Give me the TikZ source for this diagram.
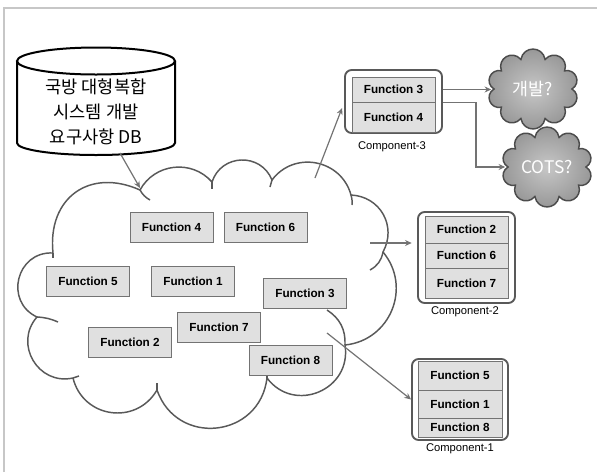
\documentclass[tikz,border=0pt]{standalone}
\usepackage{fontspec}
\setmainfont{Liberation Sans}
\newfontfamily\kr{Noto Sans CJK KR}
\usetikzlibrary{arrows.meta,calc}
\newcommand\puffcloud[1]{%
  \draw[scloudline, shift={(#1)}] (39,0) to[puff] (31.6,18.2) to[puff] (12.1,29.5)
    to[puff] (-12.1,29.5) to[puff] (-31.6,18.2) to[puff] (-39,0)
    to[puff] (-31.6,-18.2) to[puff] (-12.1,-29.5) to[puff] (12.1,-29.5)
    to[puff] (31.6,-18.2) to[puff] (39,0) -- cycle;}
\begin{document}
\begin{tikzpicture}[x=0.75pt,y=-0.75pt,
  fbox/.style={draw=black!55, fill=black!12, line width=0.6pt, minimum width=62.25pt, minimum height=22.5pt, inner sep=0pt, font=\fontsize{8.8}{10}\selectfont\bfseries},
  comp/.style={draw=black!65, line width=1.4pt, rounded corners=5pt, fill=white, inner sep=0pt},
  clab/.style={font=\fontsize{8.4}{9}\selectfont, inner sep=0pt},
  cloudline/.style={draw=black!65, line width=1.1pt},
  puff/.style={bend left=80, looseness=1.5},
  scloudline/.style={draw=black!70, line width=1.1pt, inner color=black!22, outer color=black!42},
  stext/.style={text=white, font=\kr\fontsize{13}{14}\selectfont, minimum width=62.25pt, minimum height=51pt, inner sep=0pt},
  arr/.style={draw=black!55, line width=0.9pt, -{Stealth[length=5pt,width=4.5pt]}},
  cyl/.style={draw=black, line width=1.5pt, fill=white}]
\useasboundingbox (0,0) rectangle (597,472);
% frame
\draw[black!22, line width=1.2pt] (4,472) -- (4,8) -- (597,8);
% database cylinder
\draw[cyl] (17,61) -- (17,143) arc[start angle=180, end angle=0, x radius=79, y radius=12] -- (175,61);
\draw[cyl] (96,61) ellipse [x radius=79, y radius=13.5];
\node[font=\kr\fontsize{13.2}{18.75}\selectfont, align=center, inner sep=0pt] (db) at (96,112) {국방 대형복합\\시스템 개발\\요구사항 DB};
% big cloud
\draw[cloudline, fill=white] (53,253)
  to[bend left=60, looseness=1.32] (140,190)
  to[bend left=55, looseness=1.08] (212,182)
  to[bend left=70, looseness=1.27] (272,180)
  to[bend left=64, looseness=1.18] (351,195)
  to[bend left=58, looseness=1.15] (383,252)
  to[bend left=62, looseness=1.16] (345,345)
  to[bend left=76, looseness=1.37] (267,378)
  to[bend left=77, looseness=1.40] (157,390)
  to[bend left=68, looseness=1.25] (73,378)
  to[bend left=72, looseness=1.29] (37,317)
  to[bend left=79, looseness=1.42] (53,253) -- cycle;
% inner stubs
\draw[cloudline] (140,190) to[bend right=15] (150,200);
\draw[cloudline] (212,182) -- (212,189);
\draw[cloudline] (272,180) -- (270,187);
\draw[cloudline] (351,195) to[bend left=10] (352,205);
\draw[cloudline] (383,252) to[bend left=25] (370,270);
\draw[cloudline] (327,310) to[bend left=30] (345,345);
\draw[cloudline] (267,378) -- (267,371);
\draw[cloudline] (157,390) -- (157,383);
\draw[cloudline] (73,378) -- (79,376);
\draw[cloudline] (37,317) to[bend left=10] (58,322);
\draw[cloudline] (53,253) -- (53,258);
% functions in cloud
\node[fbox] (f4) at (171.5,227) {Function 4};
\node[fbox] (f6) at (265.5,227) {Function 6};
\node[fbox] (f5) at (88,281) {Function 5};
\node[fbox] (f1) at (193,281) {Function 1};
\node[fbox] (f3) at (305,293) {Function 3};
\node[fbox] (f7) at (219,327) {Function 7};
\node[fbox] (f2) at (130,342) {Function 2};
\node[fbox] (f8) at (290.5,360) {Function 8};
% component 3
\node[comp, minimum width=72.75pt, minimum height=47.25pt] (c3) at (393.5,101.5) {};
\node[fbox, minimum height=18.75pt] (c3a) at (393.5,89.5) {Function 3};
\node[fbox, minimum height=22.5pt] (c3b) at (393.5,117) {Function 4};
\node[clab] (l3) at (392,147) {Component-3};
% component 2
\node[comp, minimum width=72.75pt, minimum height=68.25pt] (c2) at (466.5,257.5) {};
\node[fbox, minimum height=20.25pt] (c2a) at (466.5,229.5) {Function 2};
\node[fbox, minimum height=18.75pt] (c2b) at (466.5,255.5) {Function 6};
\node[fbox, minimum height=22.5pt] (c2c) at (466.5,283) {Function 7};
\node[clab] (l2) at (465,312) {Component-2};
% component 1
\node[comp, minimum width=72pt, minimum height=60.75pt] (c1) at (460,399.5) {};
\node[fbox, minimum width=63pt, minimum height=21.75pt] (c1a) at (460,375.5) {Function 5};
\node[fbox, minimum width=63pt, minimum height=21pt] (c1b) at (460,404) {Function 1};
\node[fbox, minimum width=63pt, minimum height=14.25pt] (c1c) at (460,427.5) {Function 8};
\node[clab] (l1) at (460,449) {Component-1};
% small clouds
\coordinate (devc) at (533,89);
\coordinate (cotsc) at (547,167);
\puffcloud{devc}
\puffcloud{cotsc}
\node[stext] (dev) at (devc) {개발?};
\node[stext] (cots) at (cotsc) {COTS?};
% connector endpoints on the big cloud
\coordinate (dbo) at (120,153);
\coordinate (ci1) at (140,188);
\coordinate (co3) at (315,178);
\coordinate (co2) at (370,243);
\coordinate (co1) at (327,333);
% connectors
\draw[arr] (dbo) -- (ci1);
\draw[arr] (co3) -- ([xshift=-1.5pt]c3.west |- 0,108);
\draw[arr] (co2) -- ([xshift=-4pt]c2.west |- co2);
\draw[arr] (co1) -- (c1.west);
\draw[arr] (c3.east |- c3a) -- (dev.west |- c3a);
\draw[arr] (c3.east |- c3a.south) -- ++(33,0) |- (cots.west);
\end{tikzpicture}
\end{document}
